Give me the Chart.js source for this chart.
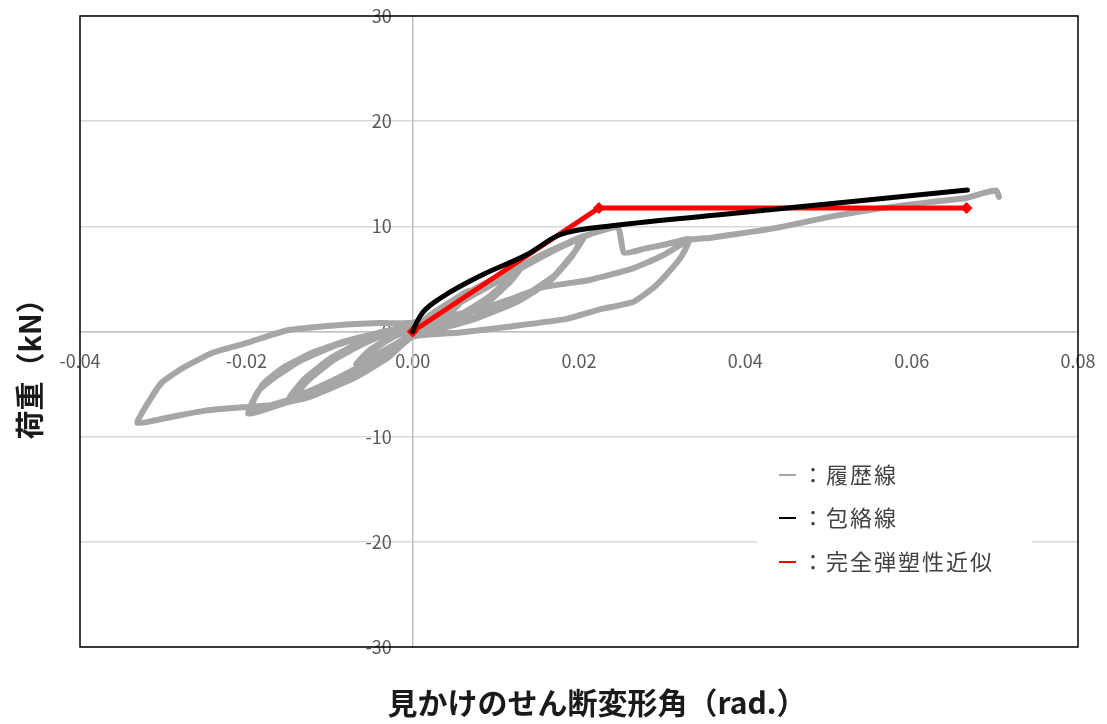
<!DOCTYPE html>
<html lang="ja">
<head>
<meta charset="utf-8">
<script src="https://cdn.jsdelivr.net/npm/chart.js@4.4.1/dist/chart.umd.min.js"></script>
<style>
  html, body { margin: 0; padding: 0; background: #fff; }
</style>
</head>
<body>
<canvas id="chart" width="1107" height="724"></canvas>
<script>
// 見かけのせん断変形角 (rad.) と 荷重 (kN)
const SERIES_LABELS = ['履歴線', '包絡線', '完全弾塑性近似'];
const X_TITLE = '見かけのせん断変形角（rad.）';
const Y_TITLE = '荷重（kN）';

// 履歴線 (読み取り値)
const hysteresis = [
  [0, 0],
  [0.002, 1.5], [0.0045, 2.8], [0.0068, 3.9],
  [0.005, 2.4], [0.0025, 0.9], [0, -0.1],
  [-0.002, -1.2], [-0.0045, -2.3], [-0.0066, -3.0],
  [-0.005, -1.9], [-0.0025, -0.6], [0, 0.3],
  [0.0025, 1.6], [0.0048, 2.9], [0.007, 3.9],
  [0.0052, 2.3], [0.0027, 0.8], [0, -0.2],
  [-0.0023, -1.3], [-0.0048, -2.4], [-0.0068, -3.1],
  [-0.0052, -1.8], [-0.0026, -0.5], [0, 0.3],
  [0.003, 1.9], [0.006, 3.4], [0.0095, 4.9], [0.0128, 6.2],
  [0.0115, 5.0], [0.009, 3.2], [0.0055, 1.5], [0.002, 0.3], [0, -0.3],
  [-0.003, -1.8], [-0.0065, -3.4], [-0.0105, -5.0], [-0.0142, -6.2],
  [-0.0125, -4.6], [-0.0095, -2.7], [-0.006, -1.2], [-0.003, -0.2], [0, 0.4],
  [0.0035, 1.8], [0.007, 3.5], [0.0105, 5.1], [0.0133, 6.4],
  [0.0118, 4.8], [0.0092, 2.9], [0.006, 1.4], [0.0025, 0.2], [0, -0.4],
  [-0.0032, -1.9], [-0.007, -3.6], [-0.011, -5.2], [-0.0148, -6.3],
  [-0.013, -4.5], [-0.0098, -2.5], [-0.0062, -1.0], [-0.003, -0.1], [0, 0.5],
  [0.004, 2.0], [0.008, 3.9], [0.012, 5.8], [0.016, 7.5], [0.0195, 8.7], [0.0207, 9.1],
  [0.0195, 7.6], [0.017, 5.3], [0.013, 3.2], [0.008, 1.5], [0.004, 0.5], [0, -0.4],
  [-0.004, -2.4], [-0.008, -4.2], [-0.0125, -6.0], [-0.0165, -7.1], [-0.0198, -7.8],
  [-0.0185, -5.6], [-0.0165, -4.3], [-0.0135, -2.8], [-0.0095, -1.4], [-0.005, -0.3], [0, 0.6],
  [0.004, 2.1], [0.0085, 4.1], [0.0125, 5.9], [0.0165, 7.6], [0.0203, 9.0],
  [0.0192, 7.2], [0.0165, 4.8], [0.0125, 2.8], [0.0075, 1.2], [0.0035, 0.3], [0, -0.5],
  [-0.004, -2.3], [-0.0085, -4.3], [-0.013, -6.0], [-0.017, -7.0], [-0.0195, -7.3],
  [-0.018, -5.0], [-0.0155, -3.4], [-0.012, -2.0], [-0.008, -0.9], [-0.004, -0.1], [0, 0.6],
  [0.004, 2.0], [0.0085, 4.0], [0.013, 6.0], [0.0175, 7.9], [0.0215, 9.3], [0.0247, 9.9],
  [0.0254, 7.5], [0.028, 7.9], [0.0305, 8.3], [0.0333, 8.8],
  [0.0322, 7.0], [0.0305, 5.4], [0.029, 4.2], [0.0265, 2.8], [0.0225, 2.1], [0.0185, 1.2],
  [0.012, 0.5], [0.0057, -0.1], [0, -0.5],
  [-0.003, -2.5], [-0.007, -4.4], [-0.0127, -6.3], [-0.017, -7.0], [-0.0204, -7.2],
  [-0.0248, -7.5], [-0.0289, -8.1], [-0.0331, -8.7],
  [-0.0316, -6.5], [-0.0301, -4.8], [-0.0277, -3.5], [-0.024, -2.0], [-0.020, -1.1],
  [-0.0152, 0.1], [-0.0091, 0.6], [-0.004, 0.8], [-0.0004, 0.8],
  [0.003, 1.3], [0.0077, 2.0], [0.0115, 3.0], [0.0156, 4.2], [0.0213, 4.9], [0.0265, 6.0],
  [0.030, 7.2], [0.0333, 8.7], [0.0357, 8.9], [0.0401, 9.4], [0.0441, 9.9], [0.0501, 10.9],
  [0.0561, 11.7], [0.0622, 12.3], [0.0666, 12.7], [0.0688, 13.2], [0.0702, 13.4], [0.0705, 12.8]
];

// 包絡線
const envelope = [
  [0, 0], [0.0005, 0.9], [0.0012, 1.8], [0.0036, 3.3], [0.0084, 5.4], [0.0137, 7.3],
  [0.0177, 9.2], [0.0245, 10.1], [0.0369, 11.1], [0.0667, 13.45]
];

// 完全弾塑性近似
const bilinear = [
  [0, 0], [0.0224, 11.75], [0.0666, 11.75]
];

const X_TICKS = [-0.04, -0.02, 0, 0.02, 0.04, 0.06, 0.08];
const Y_TICKS = [-30, -20, -10, 0, 10, 20, 30];

const COLORS = { hysteresis: '#a6a6a6', envelope: '#000000', bilinear: '#ff0000' };
const FONT = '"Noto Sans CJK JP", "Noto Sans", sans-serif';
const Y_LABEL_GAP = 21;

const toPoints = (arr) => arr.map(([x, y]) => ({ x, y }));

// 中央配置の軸がラベル分の余白を取らないようにする
const noScalePadding = (scale) => {
  scale.paddingTop = 0;
  scale.paddingBottom = 0;
  scale.paddingLeft = 0;
  scale.paddingRight = 0;
};

// 枠線 + 軸タイトル + 凡例 (グラフ内のボックス)
const decorPlugin = {
  id: 'decor',
  beforeDraw(chart) {
    const ctx = chart.ctx;
    ctx.save();
    ctx.fillStyle = '#fff';
    ctx.fillRect(0, 0, chart.width, chart.height);
    ctx.restore();
    // 中央配置の y 軸は ticks.padding が効かないので、ラベルを左へずらす
    chart.scales.y.getLabelItems().forEach((item) => {
      if (!item._shifted) {
        item.options.translation[0] -= Y_LABEL_GAP;
        item._shifted = true;
      }
    });
  },
  afterDraw(chart) {
    const { ctx, chartArea: a } = chart;
    ctx.save();
    ctx.strokeStyle = '#000';
    ctx.lineWidth = 1.5;
    ctx.strokeRect(a.left, a.top, a.right - a.left, a.bottom - a.top);

    // axis titles
    ctx.fillStyle = '#1a1a1a';
    ctx.font = 'bold 30px ' + FONT;
    ctx.textAlign = 'center';
    ctx.textBaseline = 'middle';
    ctx.fillText(X_TITLE, 597, 703);
    ctx.save();
    ctx.translate(30, 362);
    ctx.rotate(-Math.PI / 2);
    ctx.font = 'bold 29px ' + FONT;
    ctx.fillText(Y_TITLE, 0, 0);
    ctx.restore();

    // legend
    ctx.fillStyle = '#fff';
    ctx.fillRect(757, 452, 275, 135);
    const rows = [475, 518, 562];
    chart.data.datasets.forEach((ds, i) => {
      const y = rows[i];
      ctx.strokeStyle = ds.borderColor;
      ctx.lineWidth = 2;
      ctx.beginPath();
      ctx.moveTo(779, y);
      ctx.lineTo(796, y);
      ctx.stroke();
      ctx.fillStyle = '#404040';
      ctx.font = '22px ' + FONT;
      ctx.letterSpacing = '2px';
      ctx.textAlign = 'left';
      ctx.fillText('：' + ds.label, 802, y);
      ctx.letterSpacing = '0px';
    });
    ctx.restore();
  }
};

new Chart(document.getElementById('chart'), {
  type: 'scatter',
  data: {
    datasets: [
      {
        label: SERIES_LABELS[0],
        data: toPoints(hysteresis),
        showLine: true,
        borderColor: COLORS.hysteresis,
        backgroundColor: COLORS.hysteresis,
        borderWidth: 6,
        pointRadius: 0,
        borderJoinStyle: 'round',
        borderCapStyle: 'round',
        tension: 0.15,
        order: 3
      },
      {
        label: SERIES_LABELS[1],
        data: toPoints(envelope),
        showLine: true,
        borderColor: COLORS.envelope,
        backgroundColor: COLORS.envelope,
        borderWidth: 5,
        pointRadius: 0,
        borderCapStyle: 'round',
        cubicInterpolationMode: 'monotone',
        order: 1
      },
      {
        label: SERIES_LABELS[2],
        data: toPoints(bilinear),
        showLine: true,
        borderColor: COLORS.bilinear,
        backgroundColor: COLORS.bilinear,
        borderWidth: 5,
        pointStyle: 'rectRot',
        pointRadius: 6,
        pointBorderWidth: 0,
        order: 2
      }
    ]
  },
  options: {
    responsive: false,
    animation: false,
    layout: { padding: { left: 80, top: 16, right: 29, bottom: 77 } },
    plugins: {
      legend: { display: false },
      tooltip: { enabled: false }
    },
    scales: {
      x: {
        type: 'linear',
        position: { y: 0 },
        min: -0.04,
        max: 0.08,
        afterFit: noScalePadding,
        afterBuildTicks: (s) => { s.ticks = X_TICKS.map((v) => ({ value: v })); },
        ticks: {
          autoSkip: false,
          maxRotation: 0,
          padding: 19,
          color: '#595959',
          font: { family: FONT, size: 18 },
          callback: (v) => Number(v).toFixed(2)
        },
        grid: { display: false, drawTicks: false },
        border: { display: true, color: '#bfbfbf', width: 1.5 }
      },
      y: {
        type: 'linear',
        position: { x: 0 },
        min: -30,
        max: 30,
        afterFit: noScalePadding,
        afterBuildTicks: (s) => { s.ticks = Y_TICKS.map((v) => ({ value: v })); },
        ticks: {
          autoSkip: false,
          color: '#595959',
          font: { family: FONT, size: 18 }
        },
        grid: { color: '#d9d9d9', lineWidth: 1.5, drawTicks: false },
        border: { display: true, color: '#bfbfbf', width: 1.5 }
      }
    }
  },
  plugins: [decorPlugin]
});
</script>
</body>
</html>
